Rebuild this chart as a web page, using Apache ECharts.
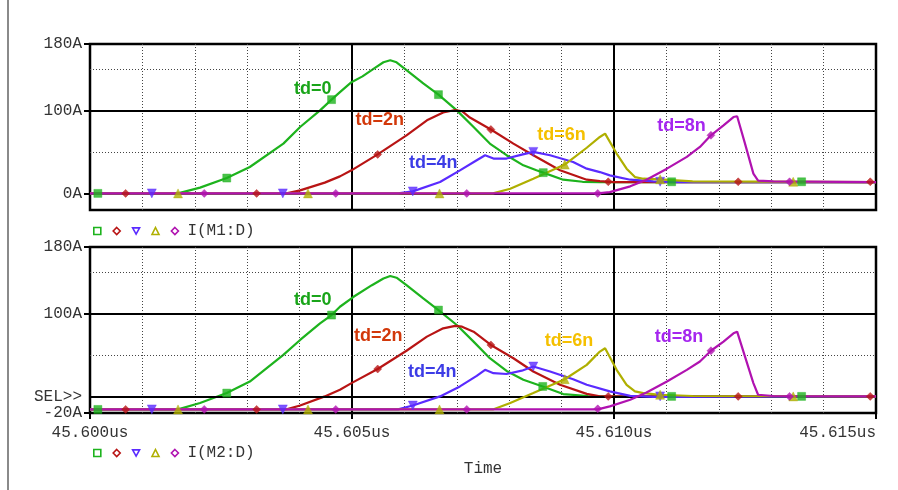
<!DOCTYPE html>
<html><head><meta charset="utf-8">
<script src="https://cdn.jsdelivr.net/npm/echarts@6/dist/echarts.min.js"></script>
<style>html,body{margin:0;padding:0;background:#fff}#c{width:898px;height:490px}</style>
</head><body><div id="c"></div>
<script>
// ---- axis ticks / labels ----
const xTickValues = [0, 5, 10, 15];               // ns after 45.600us
const xTickLabels = ['45.600us', '45.605us', '45.610us', '45.615us'];
const topYTicks = [0, 100, 180];
const topYLabels = ['0A', '100A', '180A'];
const botYTicks = [-20, 0, 100, 180];
const botYLabels = ['-20A', 'SEL>>', '100A', '180A'];
const majorY = [0, 100];
const minorY = [50, 150];
const legendText = ['I(M1:D)', 'I(M2:D)'];
const seriesNames = ['td=0', 'td=2n', 'td=4n', 'td=6n', 'td=8n'];

// ---- I(M1:D) traces [t(ns), A] ----
const m1_td0 = [[0,0],[1.68,0],[2.1,7],[2.61,18.5],[3.05,31.8],[3.69,60],[4.01,80],[4.39,100],[4.61,113],[4.77,122],[4.99,134],[5.2,141],[5.41,150],[5.6,158],[5.73,160.5],[5.85,158],[6.04,148.6],[6.36,132.5],[6.65,119],[7.0,100],[7.32,80],[7.63,60],[7.95,46],[8.27,33.8],[8.52,27.8],[8.65,25],[9.03,16.5],[9.4,14],[9.73,13.7],[15,13.7]];
const m1_td2 = [[0,0],[3.75,0],[4.01,3.6],[4.48,13],[4.77,20.5],[4.99,27.8],[5.49,47],[6.04,70],[6.43,88],[6.74,97.5],[6.97,100.5],[7.1,99],[7.25,91.4],[7.65,77],[8.08,60],[8.46,46],[8.97,27.8],[9.48,16.5],[9.73,14.9],[10.0,13.7],[15,13.7]];
const m1_td4 = [[0,0],[5.88,0],[6.16,2.4],[6.68,13.7],[7.06,27.8],[7.38,40],[7.54,46],[7.70,42],[7.95,42],[8.24,46.7],[8.46,50],[8.78,46],[9.22,37.8],[9.48,29.8],[9.73,25.7],[9.92,21.7],[10.31,16.5],[10.75,14.5],[11.2,13.7],[15,13.7]];
const m1_td6 = [[0,0],[7.69,0],[8.02,5.6],[8.46,17.7],[9.06,34.7],[9.48,55],[9.73,68],[9.83,72],[10.05,48],[10.24,29.8],[10.40,19.7],[10.56,17.7],[10.88,16.9],[11.5,14.5],[15,13.7]];
const m1_td8 = [[0,0],[9.69,0],[9.92,1.6],[10.31,8.5],[10.62,16.5],[11.01,29.8],[11.39,44],[11.64,56],[11.85,70],[12.09,82],[12.28,92],[12.35,93],[12.50,60],[12.66,23.8],[12.75,15.5],[13.04,14.5],[15,13.7]];

// ---- I(M2:D) traces ----
const m2_td0 = [[0,-15.7],[1.68,-15.7],[2.1,-8],[2.61,4],[3.05,17.9],[3.69,50],[4.01,68],[4.39,88],[4.61,98],[4.77,108],[5.03,120],[5.38,134],[5.6,142],[5.73,145],[5.85,143],[6.04,134],[6.36,118],[6.65,104],[7.0,86],[7.32,66],[7.63,46],[7.95,30.7],[8.27,20],[8.64,12],[9.03,2.8],[9.5,0.5],[9.73,0],[15,0]];
const m2_td2 = [[0,-15.7],[3.75,-15.7],[4.01,-11],[4.48,0],[4.77,8],[4.99,16],[5.49,33],[6.04,55],[6.43,72],[6.74,82],[6.97,85],[7.1,84],[7.32,78],[7.65,62],[8.08,46],[8.46,30],[8.97,14],[9.48,3],[9.73,0],[15,0]];
const m2_td4 = [[0,-15.7],[5.88,-15.7],[6.16,-11],[6.68,0],[7.06,12],[7.38,24.7],[7.54,32],[7.70,28],[7.95,27],[8.24,31],[8.46,36],[8.78,30],[9.22,20.7],[9.48,14],[9.92,6],[10.31,0.7],[10.75,-0.5],[15,0]];
const m2_td6 = [[0,-15.7],[7.69,-15.7],[8.02,-8],[8.46,4],[9.06,20.7],[9.48,38],[9.73,54],[9.83,58],[10.05,32],[10.24,14],[10.40,6],[10.56,4],[10.88,2],[11.5,0.5],[15,0]];
const m2_td8 = [[0,-15.7],[9.69,-15.7],[9.92,-12],[10.31,-4],[10.62,4.7],[11.01,17.9],[11.39,32],[11.64,42],[11.85,55],[12.09,66],[12.28,76],[12.35,78],[12.50,48],[12.66,16],[12.75,2],[13.04,0.5],[15,0]];

// ---- trace markers ----
const m1_mk0 = [[0.15,0],[2.61,18.5],[4.61,113],[6.65,119],[8.65,25],[11.10,14],[13.58,14]];
const m1_mk2 = [[0.68,0],[3.18,0],[5.49,47],[7.65,77],[9.89,14],[12.37,14],[14.89,14]];
const m1_mk4 = [[1.18,0],[3.68,0],[6.16,2.4],[8.46,50],[10.88,14]];
const m1_mk6 = [[1.68,0],[4.16,0],[6.67,0],[9.06,34.7],[10.88,17],[13.42,14]];
const m1_mk8 = [[2.18,0],[4.69,0],[7.19,0],[9.69,0],[11.85,70],[13.35,14]];
const m2_mk0 = [[0.15,-15.7],[2.61,4],[4.61,98],[6.65,104],[8.64,12],[11.10,0],[13.58,0]];
const m2_mk2 = [[0.68,-15.7],[3.18,-15.7],[5.49,33],[7.65,62],[9.89,0],[12.37,0],[14.89,0]];
const m2_mk4 = [[1.18,-15.7],[3.68,-15.7],[6.16,-11],[8.46,36],[10.88,0]];
const m2_mk6 = [[1.68,-15.7],[4.16,-15.7],[6.67,-15.7],[9.06,20.7],[10.88,2],[13.42,0]];
const m2_mk8 = [[2.18,-15.7],[4.69,-15.7],[7.19,-15.7],[9.69,-15],[11.85,55],[13.35,0]];

// ---- trace annotations (data coords) ----
const m1_labelPos = [[4.25,125.6],[5.53,88],[6.55,36.8],[9.0,70.5],[11.29,81]];
const m2_labelPos = [[4.25,116.6],[5.5,72.7],[6.53,29],[9.14,66.7],[11.24,71.5]];

// ---- styles ----
const lineColors = ['#1db31d', '#b81414', '#5a2bff', '#afaf00', '#b012b0'];
const labelColors = ['#1aa51a', '#d2380a', '#3c3ce6', '#f5c000', '#a526ef'];
const symbols = ['rect', 'diamond', 'triangle', 'triangle', 'diamond'];
const symRot = [0, 0, 180, 0, 0];
const symSizes = [8, 8, 9, 9, 8];
const MONO = '"Liberation Mono", "DejaVu Sans Mono", monospace';
const TXT = '#333';

const traces = [[m1_td0, m1_td2, m1_td4, m1_td6, m1_td8], [m2_td0, m2_td2, m2_td4, m2_td6, m2_td8]];
const markers = [[m1_mk0, m1_mk2, m1_mk4, m1_mk6, m1_mk8], [m2_mk0, m2_mk2, m2_mk4, m2_mk6, m2_mk8]];
const labelPos = [m1_labelPos, m2_labelPos];
const yTicks = [topYTicks, botYTicks];
const yLabels = [topYLabels, botYLabels];

const grids = [
  {left: 90, top: 44, width: 786, height: 166},
  {left: 90, top: 247, width: 786, height: 166}
].map(g => Object.assign(g, {show: true, borderColor: '#000', borderWidth: 2.5, backgroundColor: '#fff', containLabel: false}));

const xAxes = [], yAxes = [], series = [], legends = [];
[0, 1].forEach(p => {
  // minor dotted vertical grid (1 ns)
  xAxes.push({type: 'value', gridIndex: p, min: 0, max: 15, interval: 1,
    axisLine: {show: false}, axisTick: {show: false}, axisLabel: {show: false},
    splitLine: {show: true, lineStyle: {color: '#444', width: 1, type: [1, 2]}}});
  // major vertical grid + labels (5 ns)
  xAxes.push({type: 'value', gridIndex: p, min: 0, max: 15, interval: 5, position: 'bottom',
    axisLine: {show: false},
    axisTick: {show: p === 1, length: 6, lineStyle: {color: '#000', width: 2}},
    axisLabel: {show: p === 1, margin: 12, color: TXT, fontFamily: MONO, fontSize: 16,
      alignMinLabel: 'center', alignMaxLabel: 'right',
      formatter: v => { const i = xTickValues.indexOf(v); return i >= 0 ? xTickLabels[i] : ''; }},
    splitLine: {show: true, lineStyle: {color: '#000', width: 2}},
    name: p === 1 ? 'Time' : '', nameLocation: 'middle', nameGap: 48,
    nameTextStyle: {color: TXT, fontFamily: MONO, fontSize: 16}});
  yAxes.push({type: 'value', gridIndex: p, min: -20, max: 180, interval: 20,
    axisLine: {show: false},
    axisTick: {show: true, length: 6, lineStyle: {color: '#000', width: 2}, customValues: yTicks[p].filter(v => v !== 0 || p === 0)},
    axisLabel: {show: true, margin: 8, color: TXT, fontFamily: MONO, fontSize: 16, customValues: yTicks[p],
      formatter: v => { const i = yTicks[p].indexOf(v); return i >= 0 ? yLabels[p][i] : ''; }},
    splitLine: {show: false}});
  const xi = p * 2, yi = p;
  // horizontal grid lines via markLine
  series.push({type: 'line', name: 'grid' + p, xAxisIndex: xi, yAxisIndex: yi, data: [], z: 1, silent: true,
    markLine: {silent: true, symbol: ['none', 'none'], label: {show: false}, animation: false,
      data: majorY.map(v => ({yAxis: v, lineStyle: {color: '#000', width: 2, type: 'solid'}}))
        .concat(minorY.map(v => ({yAxis: v, lineStyle: {color: '#444', width: 1, type: [1, 2]}})))}});
  traces[p].forEach((d, k) => {
    const nm = seriesNames[k] + ' ' + p;
    series.push({type: 'line', name: nm, xAxisIndex: xi, yAxisIndex: yi, data: d, showSymbol: false,
      symbol: 'none', lineStyle: {color: lineColors[k], width: 2.2}, itemStyle: {color: lineColors[k]},
      z: 3 + k, animation: false,
      markPoint: {symbol: 'circle', symbolSize: 0, animation: false,
        data: [{coord: labelPos[p][k], value: seriesNames[k]}],
        label: {show: true, position: 'inside', formatter: seriesNames[k], color: labelColors[k],
          fontFamily: '"Liberation Sans", Arial, sans-serif', fontWeight: 'bold', fontSize: 18}}});
  });
  markers[p].forEach((d, k) => {
    series.push({type: 'scatter', name: 'mk' + k + ' ' + p, xAxisIndex: xi, yAxisIndex: yi, data: d,
      symbol: symbols[k], symbolRotate: symRot[k], symbolSize: symSizes[k],
      itemStyle: {color: lineColors[k], borderColor: lineColors[k], borderWidth: 0.5}, z: 10, animation: false, silent: true});
  });
  legends.push({show: true, left: 88, top: p === 0 ? 218 : 440, orient: 'horizontal',
    itemWidth: 7, itemHeight: 7, itemGap: 10.8, selectedMode: false,
    textStyle: {color: TXT, fontFamily: MONO, fontSize: 16, padding: [0, 0, 0, 4]},
    formatter: n => n.startsWith(seriesNames[4]) ? legendText[p] : '',
    data: seriesNames.map((s, k) => ({name: s + ' ' + p, icon: k === 2 ? 'path://M0,0L10,0L5,9Z' : symbols[k],
      itemStyle: {color: '#fff', borderColor: lineColors[k], borderWidth: 1.6}}))});
});

const chart = echarts.init(document.getElementById('c'), null, {renderer: 'canvas'});
chart.setOption({
  animation: false,
  backgroundColor: '#fff',
  grid: grids, xAxis: xAxes, yAxis: yAxes, series: series, legend: legends,
  graphic: [
    {type: 'line', shape: {x1: 8, y1: 0, x2: 8, y2: 490}, style: {stroke: '#8a8a8a', lineWidth: 2}, silent: true}
  ]
});
</script></body></html>
